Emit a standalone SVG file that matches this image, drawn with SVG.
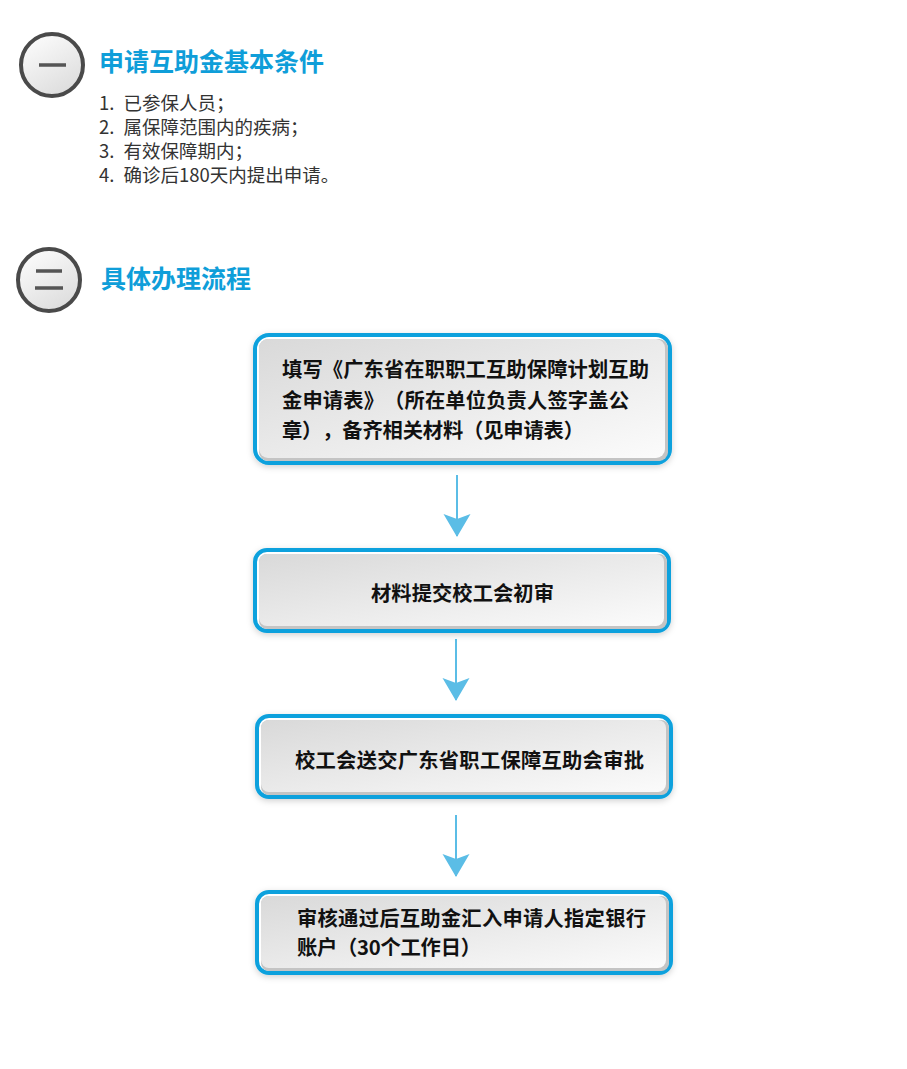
<svg xmlns="http://www.w3.org/2000/svg" width="907" height="1069" viewBox="0 0 907 1069">
<defs>
<linearGradient id="gBox" x1="0" y1="0" x2="1" y2="1">
<stop offset="0" stop-color="#d9d9d9"/>
<stop offset="1" stop-color="#fbfbfb"/>
</linearGradient>
<linearGradient id="gCirc" x1="0" y1="0" x2="0.6" y2="1">
<stop offset="0" stop-color="#ffffff"/>
<stop offset="1" stop-color="#dedede"/>
</linearGradient>
<filter id="sh" x="-10%" y="-20%" width="120%" height="140%">
<feDropShadow dx="0" dy="2" stdDeviation="3" flood-color="#000" flood-opacity="0.18"/>
</filter>
<marker id="ah" markerWidth="24" markerHeight="28" refX="22" refY="14" orient="auto" markerUnits="userSpaceOnUse" viewBox="0 0 24 28">
<path d="M0,0.5 L5,14 L0,27.5 L23,14 Z" fill="#5bbde6"/>
</marker>
</defs>
<style>
.outer{fill:#ffffff;stroke:#0aa1dd;stroke-width:4}
.innerS{fill:#c4c4c4}
.inner{fill:url(#gBox)}
.circ{fill:url(#gCirc);stroke:#4a4a4a;stroke-width:4}
.mark{stroke:#555;stroke-width:3.5}
text{text-spacing-trim:space-all}
.title{font-family:"Noto Sans CJK SC","Noto Sans",sans-serif;font-weight:bold;font-size:25px;fill:#0f9ed9}
.list{font-family:"Noto Sans CJK SC","Noto Sans",sans-serif;font-size:18.5px;fill:#333333;word-spacing:5px}
.bt{font-family:"Noto Sans CJK SC","Noto Sans",sans-serif;font-weight:bold;font-size:20.3px;fill:#111111}
.conn{stroke:#5bbde6;stroke-width:2;fill:none}
</style>

<g id="section1">
<circle class="circ" cx="52" cy="65" r="31"/>
<line class="mark" x1="39" y1="65" x2="66" y2="65"/>
<text class="title" x="99" y="71">申请互助金基本条件</text>
<text class="list" x="99" y="110">1. 已参保人员；</text>
<text class="list" x="99" y="134">2. 属保障范围内的疾病；</text>
<text class="list" x="99" y="158">3. 有效保障期内；</text>
<text class="list" x="99" y="182">4. 确诊后180天内提出申请。</text>
</g>

<g id="section2">
<circle class="circ" cx="49" cy="280" r="31"/>
<line class="mark" x1="36" y1="271" x2="62" y2="271"/>
<line class="mark" x1="35" y1="288" x2="63" y2="288"/>
<text class="title" x="101" y="288">具体办理流程</text>
</g>

<g id="connectors">
<line class="conn" x1="457" y1="475" x2="457" y2="536" marker-end="url(#ah)"/>
<line class="conn" x1="456" y1="639" x2="456" y2="700" marker-end="url(#ah)"/>
<line class="conn" x1="456" y1="815" x2="456" y2="876" marker-end="url(#ah)"/>
</g>

<g id="node1">
<rect class="outer" x="255" y="335" width="415" height="128" rx="14" filter="url(#sh)"/>
<rect class="innerS" x="259" y="339" width="409" height="122" rx="9"/>
<rect class="inner" x="259" y="339" width="406" height="119" rx="9"/>
<text class="bt" x="282" y="377" textLength="367" lengthAdjust="spacing">填写《广东省在职职工互助保障计划互助</text>
<text class="bt" x="282" y="408" textLength="347" lengthAdjust="spacing">金申请表》（所在单位负责人签字盖公</text>
<text class="bt" x="282" y="438" textLength="302" lengthAdjust="spacing">章），备齐相关材料（见申请表）</text>
</g>

<g id="node2">
<rect class="outer" x="255" y="550" width="414" height="81" rx="12" filter="url(#sh)"/>
<rect class="innerS" x="259" y="554" width="408" height="75" rx="8"/>
<rect class="inner" x="259" y="554" width="405" height="72" rx="8"/>
<text class="bt" x="371" y="601" textLength="183" lengthAdjust="spacing">材料提交校工会初审</text>
</g>

<g id="node3">
<rect class="outer" x="257" y="716" width="414" height="81" rx="12" filter="url(#sh)"/>
<rect class="innerS" x="261" y="720" width="408" height="75" rx="8"/>
<rect class="inner" x="261" y="720" width="405" height="72" rx="8"/>
<text class="bt" x="295" y="768" textLength="349" lengthAdjust="spacing">校工会送交广东省职工保障互助会审批</text>
</g>

<g id="node4">
<rect class="outer" x="257" y="892" width="414" height="81" rx="12" filter="url(#sh)"/>
<rect class="innerS" x="261" y="896" width="408" height="75" rx="8"/>
<rect class="inner" x="261" y="896" width="405" height="72" rx="8"/>
<text class="bt" x="297" y="926" textLength="349" lengthAdjust="spacing">审核通过后互助金汇入申请人指定银行</text>
<text class="bt" x="297" y="955" textLength="184" lengthAdjust="spacing">账户（30个工作日）</text>
</g>
</svg>
